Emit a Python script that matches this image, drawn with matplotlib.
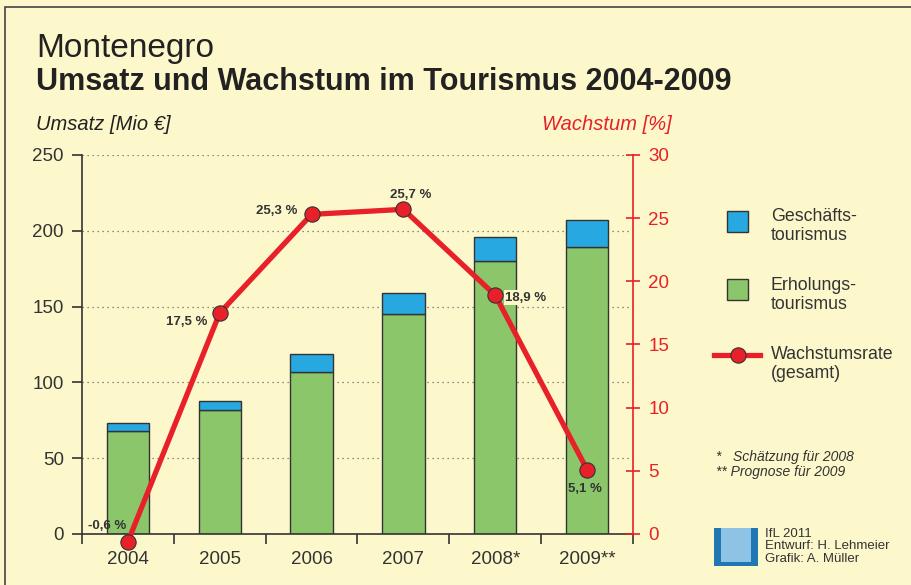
import matplotlib.pyplot as plt
import matplotlib.patches as mpatches
from matplotlib.lines import Line2D
import numpy as np

plt.rcParams['font.family'] = ['Liberation Sans', 'DejaVu Sans']

# data
years = ['2004', '2005', '2006', '2007', '2008*', '2009**']
erholung = [68, 82, 107, 145, 180, 189]
geschaeft = [5, 6, 12, 14, 16, 18]
wachstum = [-0.6, 17.5, 25.3, 25.7, 18.9, 5.1]
wachstum_labels = ['-0,6 %', '17,5 %', '25,3 %', '25,7 %', '18,9 %', '5,1 %']

bg = '#fdf8cb'
green = '#8bc76a'
blue = '#27a8e0'
red = '#e8202a'
dark = '#333333'
W, H = 911, 585

fig = plt.figure(figsize=(9.11, 5.85), dpi=100, facecolor=bg)

# frame round the figure
fig.patches.append(mpatches.Rectangle((5 / W, -0.1), 1.2, 1 - 7 / H + 0.1,
                                      transform=fig.transFigure, fill=False,
                                      edgecolor='#444444', lw=1.2))

ax = fig.add_axes([82 / W, 1 - 534 / H, (633 - 82) / W, (534 - 155) / H])
ax.set_facecolor('none')
x = np.arange(len(years))
bw = 0.46
ax.bar(x, erholung, bw, color=green, edgecolor=dark, lw=1, zorder=2)
ax.bar(x, geschaeft, bw, bottom=erholung, color=blue, edgecolor=dark, lw=1, zorder=2)
ax.set_xlim(-0.5, 5.5)
ax.set_ylim(0, 250)
ax.set_yticks(range(0, 251, 50))
for v in range(50, 251, 50):
    ax.axhline(v, color='#666666', lw=0.9, ls=(0, (1, 3)), zorder=1)
ax.set_xticks(x)
ax.set_xticklabels(years)
ax.set_xticks(np.arange(-0.5, 5.6, 1), minor=True)
ax.tick_params(axis='x', which='major', length=0, pad=12, labelsize=13.5, labelcolor=dark)
ax.tick_params(axis='x', which='minor', length=7, width=1.2, color=dark, direction='out')
ax.tick_params(axis='y', length=7, width=1.2, color=dark, labelsize=13.5,
               labelcolor=dark, pad=6)
for s in ['top', 'right']:
    ax.spines[s].set_visible(False)
ax.spines['left'].set_color(dark)
ax.spines['bottom'].set_color(dark)
ax.spines['left'].set_linewidth(1.2)
ax.spines['bottom'].set_linewidth(1.2)

ax2 = ax.twinx()
ax2.set_ylim(0, 30)
ax2.set_yticks(range(0, 31, 5))
ax2.plot(x, wachstum, color=red, lw=3.8, marker='o', markersize=11,
         markerfacecolor=red, markeredgecolor=dark, markeredgewidth=0.8,
         zorder=5, clip_on=False)
for s in ['top', 'left', 'bottom']:
    ax2.spines[s].set_visible(False)
ax2.spines['right'].set_color(red)
ax2.spines['right'].set_linewidth(1.2)
ax2.tick_params(axis='y', length=10, width=1.2, color=red, direction='inout',
                labelsize=13.5, labelcolor=red, pad=6)

# value labels, offsets in points
offsets = [(-29, 9), (-39, -9), (-40, 0), (-10, 8), (7, -4), (-14, -16)]
lab = dict(fontsize=9.5, fontweight='bold', color=dark,
           textcoords='offset points', annotation_clip=False)
for i, (dx, dy) in enumerate(offsets):
    extra = {}
    if i == 4:
        extra['bbox'] = dict(boxstyle='square,pad=0.1', fc=bg, ec='none')
    ax2.annotate(wachstum_labels[i], (x[i], wachstum[i]), xytext=(dx, dy),
                 zorder=6, **lab, **extra)

# titles
fig.text(36 / W, 1 - 57 / H, 'Montenegro', fontsize=24, color='#222222')
fig.text(36 / W, 1 - 90 / H, 'Umsatz und Wachstum im Tourismus 2004-2009',
         fontsize=22, fontweight='bold', color='#222222')
fig.text(36 / W, 1 - 130 / H, 'Umsatz [Mio €]', fontsize=14.5, style='italic',
         color='#222222')
fig.text(542 / W, 1 - 130 / H, 'Wachstum [%]', fontsize=14.5, style='italic',
         color=red)

# legend
def fx(px):
    return px / W

def fy(py):
    return 1 - py / H

fig.patches.append(mpatches.Rectangle((fx(727), fy(232)), fx(21), 21 / H,
                                      transform=fig.transFigure, fc=blue,
                                      ec=dark, lw=1))
fig.patches.append(mpatches.Rectangle((fx(727), fy(300)), fx(21), 21 / H,
                                      transform=fig.transFigure, fc=green,
                                      ec=dark, lw=1))
fig.lines.append(Line2D([fx(714), fx(760)], [fy(355), fy(355)],
                        transform=fig.transFigure, color=red, lw=3.8))
fig.lines.append(Line2D([fx(738)], [fy(355)], transform=fig.transFigure,
                        marker='o', markersize=11, markerfacecolor=red,
                        markeredgecolor=dark, markeredgewidth=0.8))
leg = dict(fontsize=12.8, color=dark, linespacing=1.1, va='center')
fig.text(fx(771), fy(226), 'Geschäfts-\ntourismus', **leg)
fig.text(fx(771), fy(295), 'Erholungs-\ntourismus', **leg)
fig.text(fx(771), fy(364), 'Wachstumsrate\n(gesamt)', **leg)

# footnotes
fig.text(fx(716), fy(461), '*   Schätzung für 2008', fontsize=10,
         style='italic', color=dark)
fig.text(fx(716), fy(476), '** Prognose für 2009', fontsize=10,
         style='italic', color=dark)

# logo
fig.patches.append(mpatches.Rectangle((fx(714), fy(566)), fx(44), 38 / H,
                                      transform=fig.transFigure,
                                      fc='#8fc3e6', ec='none'))
for rx, ry, rw, rh in [(714, 566, 7, 38), (751, 566, 7, 38), (714, 566, 44, 4)]:
    fig.patches.append(mpatches.Rectangle((fx(rx), fy(ry)), fx(rw), rh / H,
                                          transform=fig.transFigure,
                                          fc='#1f77b4', ec='none'))
fig.text(fx(765), fy(528), 'IfL 2011\nEntwurf: H. Lehmeier\nGrafik: A. Müller',
         fontsize=9.5, color=dark, va='top', linespacing=1.05)

fig.savefig('out.png', dpi=100, facecolor=bg)
